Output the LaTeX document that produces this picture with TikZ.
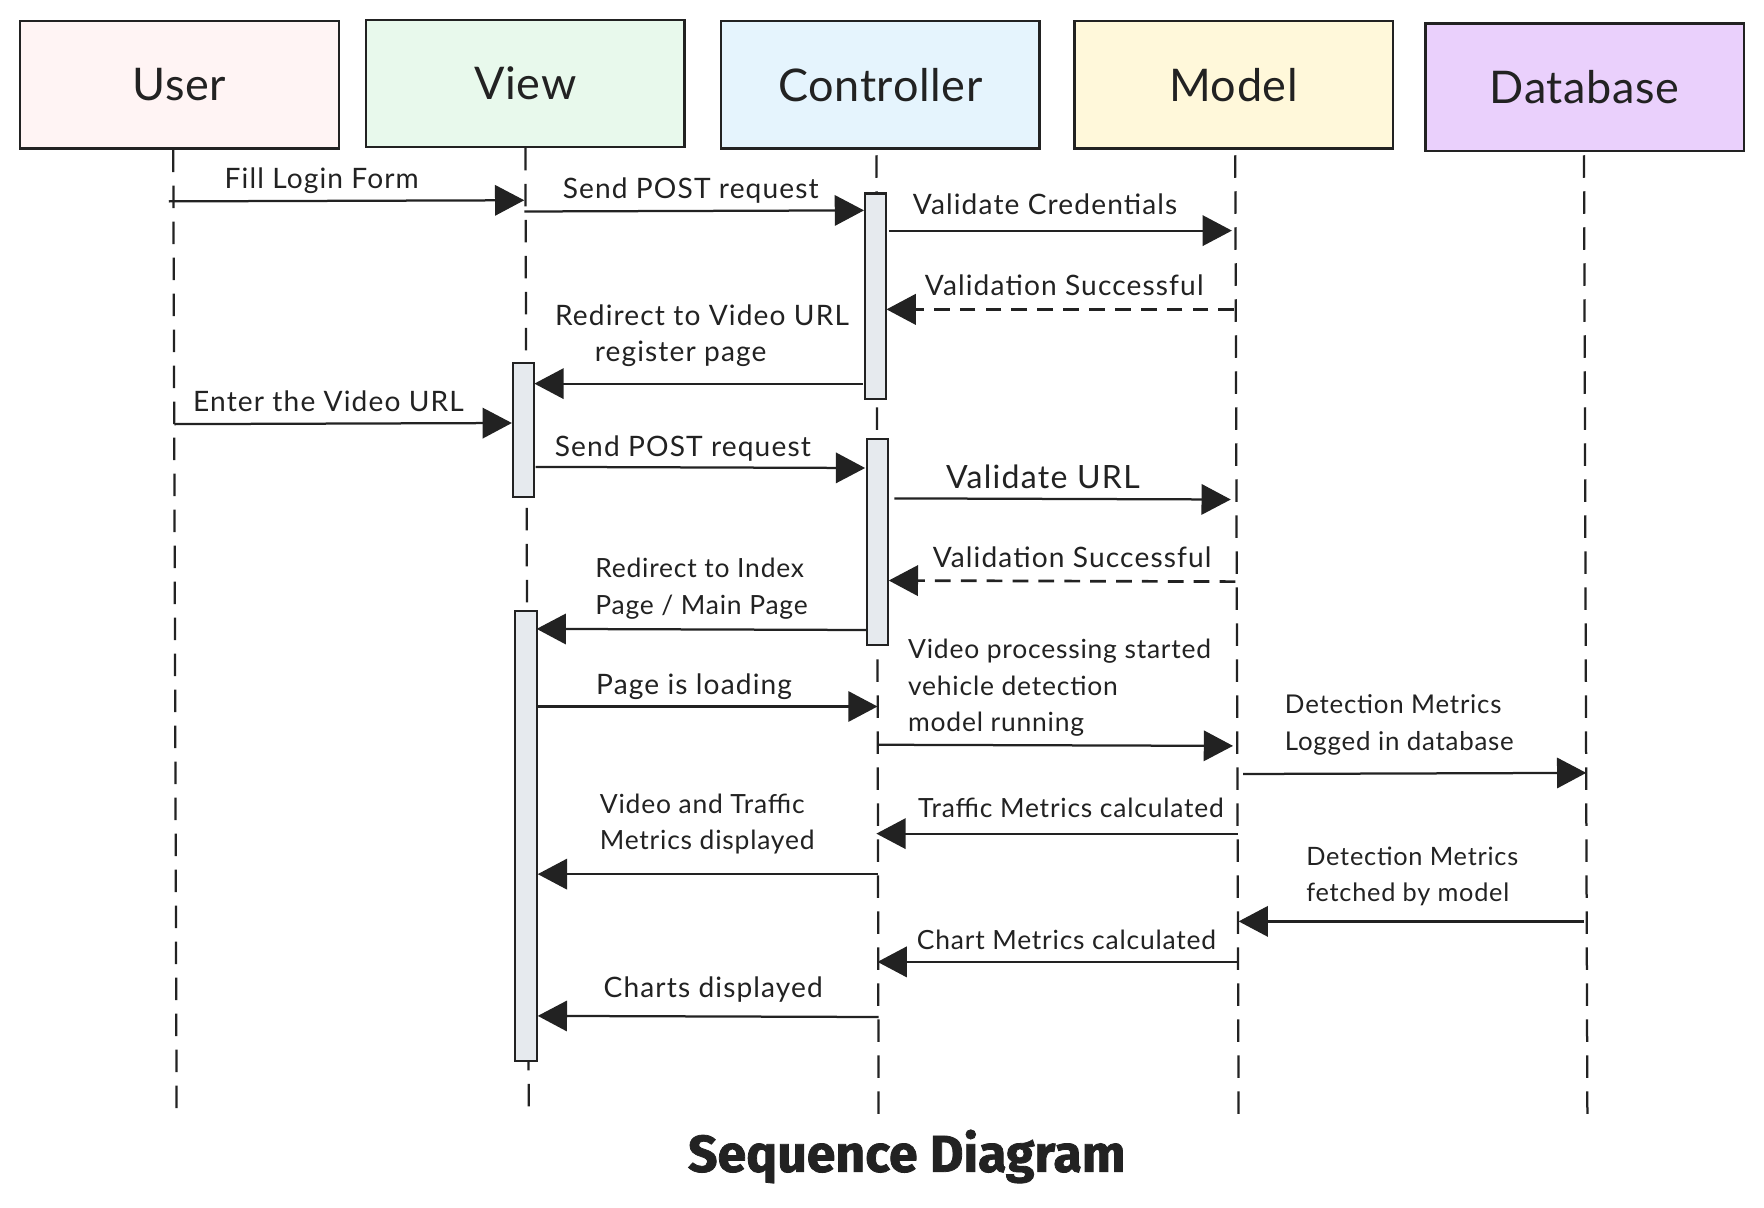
\documentclass[tikz,border=0pt]{standalone}
\usepackage{fontspec}
\setmainfont{Lato}
\newfontfamily\lblfont{Lato}[LetterSpace=4]
\newfontfamily\lblfontb{Lato}[LetterSpace=3]
\newfontfamily\hdrfont{Lato}[LetterSpace=1.5]
\newfontfamily\titlefont{Fira Sans}[BoldFeatures={FakeBold=1.5}]
\usetikzlibrary{arrows.meta}
\definecolor{ink}{HTML}{222222}
\definecolor{userc}{HTML}{FFF4F4}
\definecolor{viewc}{HTML}{E8F9EC}
\definecolor{ctrlc}{HTML}{E5F4FD}
\definecolor{modelc}{HTML}{FFF8DA}
\definecolor{dbc}{HTML}{EAD0FC}
\definecolor{barc}{HTML}{E6EAEE}
\newcommand\lblsize{\lblfont\fontsize{25}{32.5}\selectfont}
\newcommand\lblsizeb{\lblfontb\fontsize{23.5}{32.5}\selectfont}
\newcommand\lblsizec{\lblfontb\fontsize{23}{32.5}\selectfont}
\newcommand\lblsized{\lblfontb\fontsize{22.5}{32}\selectfont}
\newcommand\hdrsize{\hdrfont\fontsize{40}{44}\selectfont}
\tikzset{
  actor/.style={draw=ink, line width=2pt, minimum width=283pt, minimum height=113pt, inner sep=0pt, font=\hdrsize, text=ink},
  lifeline/.style={draw=ink, line width=2pt, dash pattern=on 20pt off 12pt},
  actbar/.style={draw=ink, line width=1.8pt, fill=barc, minimum width=19pt, inner sep=0pt},
  msg/.style={draw=ink, line width=2pt, -{Triangle[length=26pt,width=27pt]}},
  ret/.style={draw=ink, line width=2.4pt, dash pattern=on 14pt off 9pt, -{Triangle[length=26pt,width=27pt]}},
  lbl/.style={font=\lblsize, text=ink, inner sep=0pt},
  lblb/.style={font=\lblsizeb, text=ink, inner sep=0pt},
}
\begin{document}
\begin{tikzpicture}[x=1pt,y=-1pt]
\useasboundingbox[fill=white] (0,0) rectangle (1568,1073);

% actors
\node[actor, fill=userc]  (user)  at (159.5,75.5) {User};
\node[actor, fill=viewc]  (view)  at (467,74)    {View};
\node[actor, fill=ctrlc]  (ctrl)  at (782.5,75.5) {Controller};
\node[actor, fill=modelc] (model) at (1096.5,75.5) {Model};
\node[actor, fill=dbc]    (db)    at (1408.5,77.5) {Database};

% lifelines
\coordinate (ue) at (157,990);
\coordinate (ve) at (470,988);
\coordinate (ce) at (781,995);
\coordinate (me) at (1101,995);
\coordinate (de) at (1411,990);
\draw[lifeline] (user.south -| 154,0) -- (ue);
\draw[lifeline] (view.south -| 467,0) -- (ve);
\draw[lifeline] ([yshift=-5pt]ctrl.south -| 779,0) -- (ce);
\draw[lifeline] ([yshift=-5pt]model.south -| 1098,0) -- (me);
\draw[lifeline] ([yshift=-3pt]db.south -| 1408,0) -- (de);

% activation bars
\node[actbar, minimum height=183pt] (cb1) at (778,263.5) {};
\node[actbar, minimum height=119pt] (vb1) at (465.5,382.5) {};
\node[actbar, minimum height=183pt] (cb2) at (780,481.5) {};
\node[actbar, minimum height=400pt] (vb2) at (467.5,743) {};

% message end points
\coordinate (m1a) at (150,179);  \coordinate (m1b) at (466,178);
\coordinate (m2a) at (466,188);  \coordinate (m2b) at (768,187);
\coordinate (m3a) at (790,205);  \coordinate (m3b) at (1095,205);
\coordinate (m4a) at (1097,275); \coordinate (m4b) at (788,275);
\coordinate (m5a) at (767,341);  \coordinate (m5b) at (475,341);
\coordinate (m6a) at (155,377);  \coordinate (m6b) at (455,376);
\coordinate (m7a) at (476,415);  \coordinate (m7b) at (769,416);
\coordinate (m8a) at (795,443);  \coordinate (m8b) at (1094,444);
\coordinate (m9a) at (1098,517); \coordinate (m9b) at (790,516);
\coordinate (m10a) at (770,560); \coordinate (m10b) at (477,559);
\coordinate (m11a) at (478,628); \coordinate (m11b) at (780,628);
\coordinate (m12a) at (780,662); \coordinate (m12b) at (1096,663);
\coordinate (m13a) at (1105,688); \coordinate (m13b) at (1410,687);
\coordinate (m14a) at (1100,741); \coordinate (m14b) at (779,741);
\coordinate (m15a) at (780,777); \coordinate (m15b) at (478,777);
\coordinate (m16a) at (1408,819); \coordinate (m16b) at (1101,819);
\coordinate (m17a) at (1100,855); \coordinate (m17b) at (780,855);
\coordinate (m18a) at (781,904); \coordinate (m18b) at (478,903);

% messages
\draw[msg] (m1a) -- (m1b);
\draw[msg] (m2a) -- (m2b);
\draw[msg] (m3a) -- (m3b);
\draw[ret] (m4a) -- (m4b);
\draw[msg] (m5a) -- (m5b);
\draw[msg] (m6a) -- (m6b);
\draw[msg] (m7a) -- (m7b);
\draw[msg] (m8a) -- (m8b);
\draw[ret] (m9a) -- (m9b);
\draw[msg] (m10a) -- (m10b);
\draw[msg] (m11a) -- (m11b);
\draw[msg] (m12a) -- (m12b);
\draw[msg] (m13a) -- (m13b);
\draw[msg] (m14a) -- (m14b);
\draw[msg] (m15a) -- (m15b);
\draw[msg] (m16a) -- (m16b);
\draw[msg] (m17a) -- (m17b);
\draw[msg] (m18a) -- (m18b);

% labels
\node[lbl] (l1) at (286,161) {Fill Login Form};
\node[lbl] (l2) at (614,169) {Send POST request};
\node[lbl] (l3) at (929,182) {Validate Credentials};
\node[lbl] (l4) at (946,254) {Validation Successful};
\node[lbl, align=center] (l5) at (624,298.5) {Redirect to Video URL\\register page\hspace*{38pt}};
\node[lbl] (l6) at (292,357) {Enter the Video URL};
\node[lbl] (l7) at (607,399) {Send POST request};
\node[lbl, font=\lblfont\fontsize{28.5}{30}\selectfont] (l8) at (927,424) {Validate URL};
\node[lbl] (l9) at (953,495) {Validation Successful};
\node[lblb, align=left, anchor=west] (l10) at (529,523.5) {Redirect to Index\\Page / Main Page};
\node[lbl] (l11) at (617,610) {Page is loading};
\node[lblb, align=left, anchor=west] (l12) at (807,611.5) {Video processing started\\vehicle detection\\model running};
\node[lblb, font=\lblsizec, align=left, anchor=west] (l13) at (1142,644.5) {Detection Metrics\\Logged in database};
\node[lblb] (l14) at (952,718) {Traffic Metrics calculated};
\node[lblb, align=left, anchor=west] (l15) at (533,732.5) {Video and Traffic\\Metrics displayed};
\node[lblb, font=\lblsized, align=left, anchor=west] (l16) at (1161,779) {Detection Metrics\\fetched by model};
\node[lblb] (l17) at (948,835) {Chart Metrics calculated};
\node[lbl] (l18) at (634,880) {Charts displayed};

% title
\node[inner sep=0pt, text=ink, font=\titlefont\bfseries\fontsize{46}{50}\selectfont] (title) at (806,1028) {Sequence Diagram};
\end{tikzpicture}
\end{document}
